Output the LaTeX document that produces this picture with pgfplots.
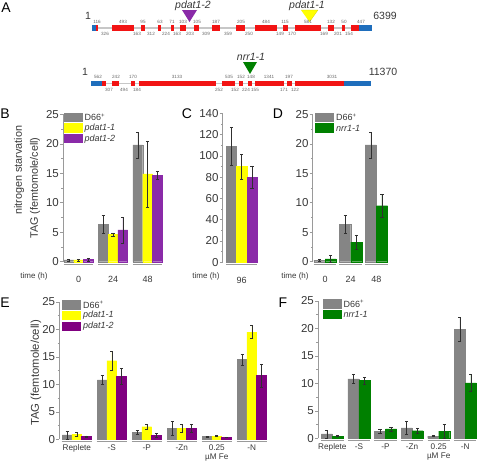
\documentclass[border=0pt]{standalone}
\usepackage{pgfplots}
\pgfplotsset{compat=1.18}
\usepackage{fontspec}
\setmainfont{Liberation Sans}
\definecolor{cgray}{HTML}{858585}
\definecolor{cyel}{HTML}{FFFF00}
\definecolor{cpurB}{HTML}{8A2AA8}
\definecolor{cpurE}{HTML}{800080}
\definecolor{cgreen}{HTML}{008000}
\definecolor{cred}{HTML}{F21414}
\definecolor{cblue}{HTML}{1F6EBC}
\definecolor{ctxt}{HTML}{383838}
\definecolor{caxis}{HTML}{9A9A9A}
\definecolor{cerr}{HTML}{303030}
\tikzset{gsep/.style={caxis, line width=0.7pt}}
% legend row: #1 row index, #2 colour, #3 x offset of swatch, #4 text
\newcommand{\legrow}[4]{%
  \fill[#2] ([xshift=#3, yshift={1.6pt-#1*10.7pt}]axis description cs:0,1) rectangle ++(19pt,-9.3pt);
  \node[anchor=west, inner sep=0pt, font=\fontsize{9}{10}\selectfont, text=ctxt]
    at ([xshift={#3+21pt}, yshift={1.6pt-#1*10.7pt-4.65pt}]axis description cs:0,1) {#4};}
\pgfplotsset{
  panel/.style={
    scale only axis, clip=false,
    axis x line=bottom, axis y line=left,
    x axis line style={draw=none},
    y axis line style={caxis, line width=0.6pt, -},
    xtick style={draw=none},
    ytick style={caxis, line width=0.5pt},
    tick align=outside,
    major tick length=3pt, minor tick length=1.7pt,
    minor y tick num=1,
    ymin=0,
    ybar=0pt,
    /pgf/number format/assume math mode=true,
    yticklabel style={font=\fontsize{11.5}{12}\selectfont, text=ctxt, inner sep=1pt},
    xticklabel style={font=\fontsize{8.2}{8.8}\selectfont, text=ctxt, inner sep=0pt, align=center},
  },
  mybar/.style={fill=#1, draw=#1, line width=0.2pt,
    error bars/.cd, y dir=both, y explicit,
    error bar style={draw=cerr, line width=0.45pt},
    error mark options={rotate=90, mark size=1.6pt, draw=cerr, line width=0.45pt}},
}
\begin{document}
\begin{tikzpicture}
\useasboundingbox (0pt,0pt) rectangle (477pt,-461pt);

% ---------------- Panel A: gene models ----------------
\begin{axis}[at={(0pt,0pt)}, anchor=north west, scale only axis, hide axis, clip=false,
  width=477pt, height=110pt, xmin=0, xmax=477, ymin=0, ymax=110, y dir=reverse]
% gene 1
\addplot[color=black!22, line width=1.1pt] coordinates {(92,28)(372,28)};
\addplot[fill=cblue, draw=none] coordinates {(92,25)(96,25)(96,31)(92,31)};
\addplot[fill=cblue, draw=none] coordinates {(359,25)(372,25)(372,31)(359,31)};
\addplot[fill=cred, draw=none] coordinates {(96,25)(98,25)(98,31)(96,31)};
\addplot[fill=cred, draw=none] coordinates {(112,25)(134,25)(134,31)(112,31)};
\addplot[fill=cred, draw=none] coordinates {(141,25)(145,25)(145,31)(141,31)};
\addplot[fill=cred, draw=none] coordinates {(158,25)(161,25)(161,31)(158,31)};
\addplot[fill=cred, draw=none] coordinates {(171,25)(173.5,25)(173.5,31)(171,31)};
\addplot[fill=cred, draw=none] coordinates {(180,25)(186,25)(186,31)(180,31)};
\addplot[fill=cred, draw=none] coordinates {(194,25)(199,25)(199,31)(194,31)};
\addplot[fill=cred, draw=none] coordinates {(212,25)(220,25)(220,31)(212,31)};
\addplot[fill=cred, draw=none] coordinates {(236,25)(245,25)(245,31)(236,31)};
\addplot[fill=cred, draw=none] coordinates {(255,25)(277,25)(277,31)(255,31)};
\addplot[fill=cred, draw=none] coordinates {(283,25)(288,25)(288,31)(283,31)};
\addplot[fill=cred, draw=none] coordinates {(295,25)(321,25)(321,31)(295,31)};
\addplot[fill=cred, draw=none] coordinates {(328,25)(334,25)(334,31)(328,31)};
\addplot[fill=cred, draw=none] coordinates {(342,25)(345,25)(345,31)(342,31)};
\addplot[fill=cred, draw=none] coordinates {(351,25)(359,25)(359,31)(351,31)};
\addplot[fill=cpurB, draw=none] coordinates {(182,10)(197,10)(189.5,22)};
\addplot[fill=cyel, draw=cyel!80!black, line width=0.2pt] coordinates {(301,10)(318,10)(309.5,22)};
% gene 2
\addplot[color=black!22, line width=1.1pt] coordinates {(91,83.5)(371,83.5)};
\addplot[fill=cblue, draw=none] coordinates {(91,81)(102,81)(102,86)(91,86)};
\addplot[fill=cblue, draw=none] coordinates {(344,81)(371,81)(371,86)(344,86)};
\addplot[fill=cred, draw=none] coordinates {(102,81)(106,81)(106,86)(102,86)};
\addplot[fill=cred, draw=none] coordinates {(112,81)(119,81)(119,86)(112,86)};
\addplot[fill=cred, draw=none] coordinates {(131,81)(135,81)(135,86)(131,86)};
\addplot[fill=cred, draw=none] coordinates {(139,81)(216,81)(216,86)(139,86)};
\addplot[fill=cred, draw=none] coordinates {(222,81)(235,81)(235,86)(222,86)};
\addplot[fill=cred, draw=none] coordinates {(239,81)(243,81)(243,86)(239,86)};
\addplot[fill=cred, draw=none] coordinates {(248,81)(252,81)(252,86)(248,86)};
\addplot[fill=cred, draw=none] coordinates {(255,81)(284,81)(284,86)(255,86)};
\addplot[fill=cred, draw=none] coordinates {(287,81)(292,81)(292,86)(287,86)};
\addplot[fill=cred, draw=none] coordinates {(295,81)(344,81)(344,86)(295,86)};
\addplot[fill=cgreen, draw=none] coordinates {(243,62)(257,62)(250,74)};
% labels gene 1
\begin{scope}[every node/.style={font=\fontsize{4.6}{5}\selectfont, text=black!60, inner sep=0pt}]
\node at (axis cs:97,21.5) {116}; \node at (axis cs:123,21.5) {493}; \node at (axis cs:143,21.5) {95};
\node at (axis cs:160,21.5) {63}; \node at (axis cs:172,21.5) {71}; \node at (axis cs:183,21.5) {103};
\node at (axis cs:197,21.5) {105}; \node at (axis cs:216,21.5) {187}; \node at (axis cs:241,21.5) {205};
\node at (axis cs:266,21.5) {484}; \node at (axis cs:285,21.5) {115}; \node at (axis cs:308,21.5) {581};
\node at (axis cs:331,21.5) {132}; \node at (axis cs:344,21.5) {50}; \node at (axis cs:361,21.5) {447};
\node at (axis cs:105,34) {326}; \node at (axis cs:137,34) {163}; \node at (axis cs:151,34) {312};
\node at (axis cs:166,34) {224}; \node at (axis cs:177,34) {163}; \node at (axis cs:190,34) {203};
\node at (axis cs:206,34) {309}; \node at (axis cs:228,34) {359}; \node at (axis cs:249,34) {250};
\node at (axis cs:280,34) {149}; \node at (axis cs:292,34) {170}; \node at (axis cs:324,34) {169};
\node at (axis cs:338,34) {201}; \node at (axis cs:349,34) {154};
% gene 2
\node at (axis cs:98,77) {562}; \node at (axis cs:116,77) {242}; \node at (axis cs:133,77) {170};
\node at (axis cs:177,77) {3133}; \node at (axis cs:229,77) {535}; \node at (axis cs:241,77) {152};
\node at (axis cs:251,77) {148}; \node at (axis cs:269,77) {1341}; \node at (axis cs:289,77) {197};
\node at (axis cs:332,77) {3031};
\node at (axis cs:109,90) {307}; \node at (axis cs:124,90) {494}; \node at (axis cs:137,90) {184};
\node at (axis cs:219,90) {252}; \node at (axis cs:235,90) {152}; \node at (axis cs:246,90) {224};
\node at (axis cs:255,90) {155}; \node at (axis cs:284,90) {171}; \node at (axis cs:295,90) {122};
\end{scope}
\begin{scope}[every node/.style={font=\fontsize{10.5}{11}\selectfont, text=ctxt, inner sep=0pt}]
\node at (axis cs:88,16) {1}; \node at (axis cs:385,16) {6399};
\node at (axis cs:85,72) {1}; \node at (axis cs:383,72) {11370};
\node[font=\fontsize{10.5}{11}\selectfont\itshape] at (axis cs:193,5.5) {pdat1-2};
\node[font=\fontsize{10.5}{11}\selectfont\itshape] at (axis cs:307,5.5) {pdat1-1};
\node[font=\fontsize{10.5}{11}\selectfont\itshape] at (axis cs:251,57) {nrr1-1};
\end{scope}
\end{axis}

% ---------------- Panel B ----------------
\begin{axis}[panel, at={(63pt,-261.7pt)}, anchor=south west, width=101.8pt, height=147.4pt,
  xmin=-0.45, xmax=2.5, ymax=25, ytick={0,5,...,25}, xtick={0,1,2}, xticklabels={0,24,48},
  xticklabel style={yshift=-11pt, font=\fontsize{9}{10}\selectfont}, bar width=9.7pt]
\addplot[mybar=cgray] coordinates {(0,0.3) +- (0,0.15) (1,6.3) +- (0,1.5) (2,19.8) +- (0,2.2)};
\addplot[mybar=cyel] coordinates {(0,0.3) +- (0,0.2) (1,4.6) +- (0,0.3) (2,14.9) +- (0,5.6)};
\addplot[mybar=cpurB] coordinates {(0,0.4) +- (0,0.25) (1,5.4) +- (0,2.2) (2,14.7) +- (0,0.7)};
\legrow{0}{cgray}{0.5pt}{D66\textsuperscript{+}}
\legrow{1}{cyel}{0.5pt}{\textit{pdat1-1}}
\legrow{2}{cpurB}{0.5pt}{\textit{pdat1-2}}
\draw[gsep] ([yshift=-2.3pt]axis cs:-0.43,0) -- ([yshift=-2.3pt]axis cs:0.43,0);
\draw[gsep] ([yshift=-2.3pt]axis cs:0.57,0) -- ([yshift=-2.3pt]axis cs:1.43,0);
\draw[gsep] ([yshift=-2.3pt]axis cs:1.57,0) -- ([yshift=-2.3pt]axis cs:2.43,0);
\end{axis}

% ---------------- Panel C ----------------
\begin{axis}[panel, at={(222.7pt,-262.3pt)}, anchor=south west, width=38pt, height=149pt,
  xmin=-1, xmax=1, ymax=140, ytick={0,20,...,140}, xtick={0}, xticklabels={96},
  xticklabel style={yshift=-11.5pt, font=\fontsize{9}{10}\selectfont}, bar width=10.3pt]
\addplot[mybar=cgray] coordinates {(0,109) +- (0,18)};
\addplot[mybar=cyel] coordinates {(0,90) +- (0,11.7)};
\addplot[mybar=cpurB] coordinates {(0,80) +- (0,10.7)};
\draw[gsep] ([yshift=-2.3pt]axis cs:-0.82,0) -- ([yshift=-2.3pt]axis cs:0.82,0);
\end{axis}

% ---------------- Panel D ----------------
\begin{axis}[panel, at={(312.7pt,-261.7pt)}, anchor=south west, width=77.3pt, height=147.4pt,
  xmin=-0.48, xmax=2.53, ymax=25, ytick={0,5,...,25}, xtick={0,1,2}, xticklabels={0,24,48},
  xticklabel style={yshift=-11pt, font=\fontsize{9}{10}\selectfont}, bar width=11.2pt]
\addplot[mybar=cgray] coordinates {(0,0.25) +- (0,0.1) (1,6.3) +- (0,1.5) (2,19.8) +- (0,2.2)};
\addplot[mybar=cgreen] coordinates {(0,0.5) +- (0,0.6) (1,3.3) +- (0,1.25) (2,9.5) +- (0,1.95)};
\legrow{0}{cgray}{2.3pt}{D66\textsuperscript{+}}
\legrow{1}{cgreen}{2.3pt}{\textit{nrr1-1}}
\draw[gsep] ([yshift=-2.3pt]axis cs:-0.44,0) -- ([yshift=-2.3pt]axis cs:0.44,0);
\draw[gsep] ([yshift=-2.3pt]axis cs:0.56,0) -- ([yshift=-2.3pt]axis cs:1.44,0);
\draw[gsep] ([yshift=-2.3pt]axis cs:1.56,0) -- ([yshift=-2.3pt]axis cs:2.44,0);
\end{axis}

% ---------------- Panel E ----------------
\begin{axis}[panel, at={(59.3pt,-439.3pt)}, anchor=south west, width=210.7pt, height=137.5pt,
  xmin=-0.5, xmax=5.52, ymax=25, ytick={0,5,...,25}, xtick={0,1,2,3,4,5},
  xticklabels={Replete,-S,-P,-Zn,0.25\\µM Fe,-N},
  xticklabel style={yshift=-2.5pt}, bar width=9.6pt]
\addplot[mybar=cgray] coordinates {(0,0.8) +- (0,0.7) (1,10.8) +- (0,0.8) (2,1.3) +- (0,0.3) (3,2.0) +- (0,1.2) (4,0.5) +- (0,0.1) (5,14.5) +- (0,1.05)};
\addplot[mybar=cyel] coordinates {(0,0.9) +- (0,0.3) (1,14.3) +- (0,1.8) (2,2.3) +- (0,0.4) (3,2.0) +- (0,0.7) (4,0.6) +- (0,0.1) (5,19.5) +- (0,1.2)};
\addplot[mybar=cpurE] coordinates {(0,0.5) +- (0,0.15) (1,11.5) +- (0,1.4) (2,0.7) +- (0,0.4) (3,2.0) +- (0,0.7) (4,0.4) +- (0,0.05) (5,11.6) +- (0,2.1)};
\legrow{0}{cgray}{2.7pt}{D66\textsuperscript{+}}
\legrow{1}{cyel}{2.7pt}{\textit{pdat1-1}}
\legrow{2}{cpurE}{2.7pt}{\textit{pdat1-2}}
\draw[gsep] ([yshift=-2.3pt]axis cs:-0.43,0) -- ([yshift=-2.3pt]axis cs:0.43,0);
\draw[gsep] ([yshift=-2.3pt]axis cs:0.57,0) -- ([yshift=-2.3pt]axis cs:1.43,0);
\draw[gsep] ([yshift=-2.3pt]axis cs:1.57,0) -- ([yshift=-2.3pt]axis cs:2.43,0);
\draw[gsep] ([yshift=-2.3pt]axis cs:2.57,0) -- ([yshift=-2.3pt]axis cs:3.43,0);
\draw[gsep] ([yshift=-2.3pt]axis cs:3.57,0) -- ([yshift=-2.3pt]axis cs:4.43,0);
\draw[gsep] ([yshift=-2.3pt]axis cs:4.57,0) -- ([yshift=-2.3pt]axis cs:5.43,0);
\end{axis}

% ---------------- Panel F ----------------
\begin{axis}[panel, at={(318pt,-438.3pt)}, anchor=south west, width=159pt, height=137.5pt,
  xmin=-0.54, xmax=5.44, ymax=25, ytick={0,5,...,25}, xtick={0,1,2,3,4,5},
  xticklabels={Replete,-S,-P,-Zn,0.25\\µM Fe,-N},
  xticklabel style={yshift=-2.5pt}, bar width=11pt]
\addplot[mybar=cgray] coordinates {(0,0.8) +- (0,0.7) (1,10.8) +- (0,0.8) (2,1.3) +- (0,0.3) (3,1.9) +- (0,1.2) (4,0.4) +- (0,0.1) (5,19.8) +- (0,2.2)};
\addplot[mybar=cgreen] coordinates {(0,0.4) +- (0,0.1) (1,10.5) +- (0,0.6) (2,1.7) +- (0,0.4) (3,1.4) +- (0,0.4) (4,1.3) +- (0,1.3) (5,10.1) +- (0,1.6)};
\legrow{0}{cgray}{4.5pt}{D66\textsuperscript{+}}
\legrow{1}{cgreen}{4.5pt}{\textit{nrr1-1}}
\draw[gsep] ([yshift=-2.3pt]axis cs:-0.42,0) -- ([yshift=-2.3pt]axis cs:0.42,0);
\draw[gsep] ([yshift=-2.3pt]axis cs:0.58,0) -- ([yshift=-2.3pt]axis cs:1.42,0);
\draw[gsep] ([yshift=-2.3pt]axis cs:1.58,0) -- ([yshift=-2.3pt]axis cs:2.42,0);
\draw[gsep] ([yshift=-2.3pt]axis cs:2.58,0) -- ([yshift=-2.3pt]axis cs:3.42,0);
\draw[gsep] ([yshift=-2.3pt]axis cs:3.58,0) -- ([yshift=-2.3pt]axis cs:4.42,0);
\draw[gsep] ([yshift=-2.3pt]axis cs:4.58,0) -- ([yshift=-2.3pt]axis cs:5.42,0);
\end{axis}

% ---------------- free text ----------------
\begin{scope}[x=1pt, y=-1pt, every node/.style={inner sep=0pt, text=ctxt}]
\node[font=\fontsize{14}{15}\selectfont, text=black] at (6,8) {A};
\node[font=\fontsize{14}{15}\selectfont, text=black] at (5,114) {B};
\node[font=\fontsize{14}{15}\selectfont, text=black] at (187,114) {C};
\node[font=\fontsize{14}{15}\selectfont, text=black] at (278,114) {D};
\node[font=\fontsize{14}{15}\selectfont, text=black] at (5,303) {E};
\node[font=\fontsize{14}{15}\selectfont, text=black] at (283,303) {F};
\node[font=\fontsize{10.8}{12}\selectfont, rotate=90] at (19,170) {nitrogen starvation};
\node[font=\fontsize{10.8}{12}\selectfont, rotate=90] at (35,188) {TAG (femtomole/cell)};
\node[font=\fontsize{11.3}{12}\selectfont, rotate=90] at (36,373) {TAG (femtomole/cell)};
\node[font=\fontsize{8}{9}\selectfont] at (34,276) {time (h)};
\node[font=\fontsize{8}{9}\selectfont] at (206,276) {time (h)};
\node[font=\fontsize{8}{9}\selectfont] at (295,276) {time (h)};
\end{scope}
\end{tikzpicture}
\end{document}
